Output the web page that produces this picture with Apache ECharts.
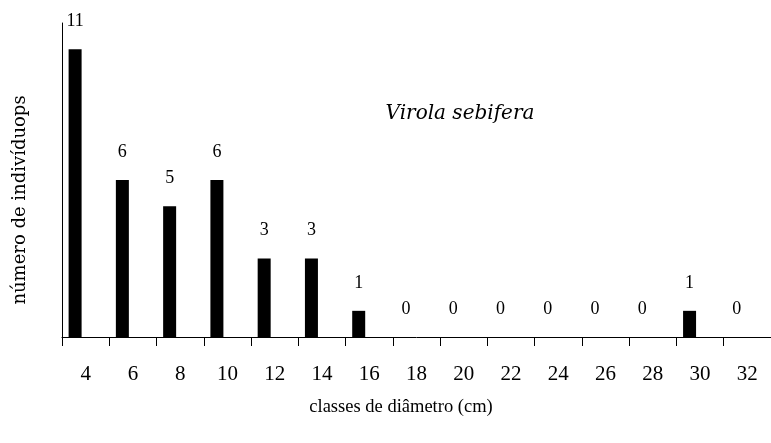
<!DOCTYPE html>
<html>
<head>
<meta charset="utf-8">
<script src="https://cdn.jsdelivr.net/npm/echarts@6/dist/echarts.min.js"></script>
<style>html,body{margin:0;padding:0;background:#fff}#c{width:771px;height:443px}</style>
</head>
<body>
<div id="c"></div>
<script>
var categories = ['4','6','8','10','12','14','16','18','20','22','24','26','28','30','32'];
var counts = [11,6,5,6,3,3,1,0,0,0,0,0,0,1,0];
var xAxisTitle = 'classes de diâmetro (cm)';
var yAxisTitle = 'número de indivíduops';
var speciesName = 'Virola sebifera';

var FONT = '"Liberation Serif", "DejaVu Serif", serif';
var WFONT = '"DejaVu Serif", "Liberation Serif", serif';
var chart = echarts.init(document.getElementById('c'), null, {renderer: 'canvas'});
chart.setOption({
  backgroundColor: '#fff',
  animation: false,
  grid: {left: 62, right: -6.5, top: 23, bottom: 106},
  xAxis: {
    type: 'category',
    data: categories,
    boundaryGap: true,
    axisLine: {lineStyle: {color: '#000', width: 1}},
    axisTick: {show: true, alignWithLabel: false, length: 9, lineStyle: {color: '#000'}},
    axisLabel: {margin: 27, fontFamily: FONT, fontSize: 21, color: '#000', interval: 0}
  },
  yAxis: {
    type: 'value',
    min: 0, max: 12,
    splitLine: {show: false},
    axisLine: {show: true, lineStyle: {color: '#000', width: 1}},
    axisTick: {show: false},
    axisLabel: {show: false}
  },
  graphic: [{
    type: 'text',
    x: 20, y: 200,
    rotation: Math.PI / 2,
    style: {text: yAxisTitle, font: '18px ' + WFONT, fill: '#000', align: 'center', verticalAlign: 'middle'}
  }, {
    type: 'text',
    x: 401, y: 407,
    style: {text: xAxisTitle, font: '18.5px ' + FONT, fill: '#000', align: 'center', verticalAlign: 'middle'}
  }, {
    type: 'text',
    x: 460, y: 114,
    style: {text: speciesName, font: 'italic 20px ' + WFONT, fill: '#000', align: 'center', verticalAlign: 'middle'}
  }],
  series: [{
    type: 'bar',
    data: counts,
    barWidth: 13,
    barGap: '62%',
    itemStyle: {color: '#000'},
    label: {show: true, position: 'top', distance: 19, fontFamily: FONT, fontSize: 18, color: '#000'}
  }, {
    type: 'bar',
    data: counts.map(function(){ return null; }),
    barWidth: 13,
    itemStyle: {color: 'rgba(0,0,0,0)'}
  }]
});
</script>
</body>
</html>
